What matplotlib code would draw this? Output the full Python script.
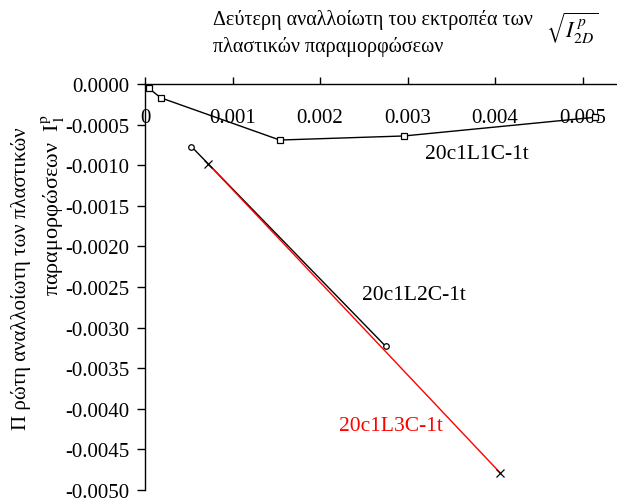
import matplotlib
matplotlib.use("Agg")
import matplotlib.pyplot as plt

plt.rcParams['font.family'] = ['Liberation Serif', 'DejaVu Serif']
plt.rcParams['mathtext.fontset'] = 'stix'

# Series data
l1c_x = [0.00004, 0.00018, 0.00154, 0.00296, 0.00514]
l1c_y = [-0.00005, -0.00017, -0.00069, -0.00064, -0.00041]
l2c_x = [0.00053, 0.00275]
l2c_y = [-0.00077, -0.00323]
l3c_x = [0.00072, 0.00406]
l3c_y = [-0.00098, -0.00479]

series_names = ['20c1L1C-1t', '20c1L2C-1t', '20c1L3C-1t']

x_ticks = [0, 0.001, 0.002, 0.003, 0.004, 0.005]
x_tick_labels = ['0', '0.001', '0.002', '0.003', '0.004', '0.005']
y_ticks = [0, -0.0005, -0.001, -0.0015, -0.002, -0.0025, -0.003, -0.0035,
           -0.004, -0.0045, -0.005]
y_tick_labels = ['0.0000', '-0.0005', '-0.0010', '-0.0015', '-0.0020', '-0.0025',
                 '-0.0030', '-0.0035', '-0.0040', '-0.0045', '-0.0050']

W, H = 617, 502
fig = plt.figure(figsize=(W / 100, H / 100), dpi=100)
ax = fig.add_axes([145 / W, 11 / H, 472 / W, 406 / H])

ax.plot(l1c_x, l1c_y, color='black', lw=1.0, marker='s', ms=4,
        mfc='white', mec='black', mew=0.9, clip_on=False)
ax.plot(l2c_x, l2c_y, color='black', lw=1.0, marker='o', ms=4,
        mfc='white', mec='black', mew=0.9, clip_on=False)
ax.plot(l3c_x, l3c_y, color='red', lw=1.0, marker='x', ms=6,
        mec='black', mew=0.9, clip_on=False)

ax.set_xlim(0, 0.005394)
ax.set_ylim(-0.005, 0)

for side in ('bottom', 'right'):
    ax.spines[side].set_visible(False)
for side in ('left', 'top'):
    ax.spines[side].set_linewidth(1.0)

ax.xaxis.tick_top()
ax.set_xticks(x_ticks)
ax.set_xticklabels(x_tick_labels)
ax.xaxis.set_tick_params(direction='out', length=5, width=1.0,
                         labelsize=15, pad=-36)
ax.set_yticks(y_ticks)
ax.set_yticklabels(y_tick_labels)
ax.yaxis.set_tick_params(direction='out', length=6, width=1.0,
                         labelsize=15, pad=5)

# Series labels
ax.text(0.003794, -0.00086, series_names[0], fontsize=15.5, color='black',
        ha='center', va='center')
ax.text(0.003074, -0.002592, series_names[1], fontsize=15.5, color='black',
        ha='center', va='center')
ax.text(0.002811, -0.004201, series_names[2], fontsize=15.5, color='red',
        ha='center', va='center')

# Horizontal axis title (above the plot)
fig.text(213 / W, 1 - 20 / H, 'Δεύτερη αναλλοίωτη του εκτροπέα των',
         fontsize=14.5, ha='left', va='center')
fig.text(213 / W, 1 - 47 / H, 'πλαστικών παραμορφώσεων',
         fontsize=14.5, ha='left', va='center')
fig.text(546 / W, 1 - 29 / H, r'$\sqrt{I^{\,p}_{2D}}$',
         fontsize=16, ha='left', va='center')

# Vertical axis title
fig.text(21 / W, 1 - 279 / H, 'Π ρώτη αναλλοίωτη των πλαστικών',
         fontsize=15, rotation=90, ha='center', va='center')
fig.text(53 / W, 1 - 205 / H, r'παραμορφώσεων  I$^{\mathrm{p}}_{\mathrm{1}}$',
         fontsize=16, rotation=90, ha='center', va='center')

fig.savefig('out.png', dpi=100)
